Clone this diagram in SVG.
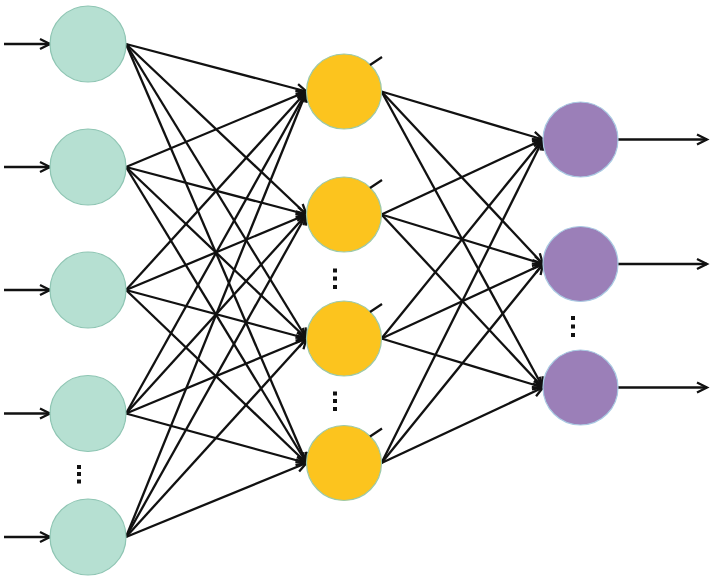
<svg xmlns="http://www.w3.org/2000/svg" width="713" height="587" viewBox="0 0 713 587">
<defs>
<marker id="arr" markerUnits="userSpaceOnUse" markerWidth="14" markerHeight="14" refX="11" refY="6" orient="auto" overflow="visible">
<path d="M1,1 L11,6 L1,11" fill="none" stroke="#111" stroke-width="2.3"/>
</marker>
</defs>
<style>
.e{stroke:#111;stroke-width:2.3;fill:none;marker-end:url(#arr)}
.in{fill:#b6e0d2;stroke:#8ec5b3;stroke-width:1.2}
.hid{fill:#fcc41e;stroke:#9cc9a9;stroke-width:1.2}
.out{fill:#9b7fb8;stroke:#a9c9e2;stroke-width:1.2}
.tick{stroke:#111;stroke-width:2.3}
.dot{fill:#111}
</style>
<rect width="713" height="587" fill="#fff"/>
<g id="connectors">
<line class="e" x1="4" y1="44" x2="50" y2="44"/>
<line class="e" x1="4" y1="167" x2="50" y2="167"/>
<line class="e" x1="4" y1="290" x2="50" y2="290"/>
<line class="e" x1="4" y1="413.5" x2="50" y2="413.5"/>
<line class="e" x1="4" y1="537" x2="50" y2="537"/>
<line class="e" x1="126" y1="44" x2="306.5" y2="91.5"/>
<line class="e" x1="126" y1="44" x2="306.5" y2="214.5"/>
<line class="e" x1="126" y1="44" x2="306.5" y2="338.5"/>
<line class="e" x1="126" y1="44" x2="306.5" y2="463"/>
<line class="e" x1="126" y1="167" x2="306.5" y2="91.5"/>
<line class="e" x1="126" y1="167" x2="306.5" y2="214.5"/>
<line class="e" x1="126" y1="167" x2="306.5" y2="338.5"/>
<line class="e" x1="126" y1="167" x2="306.5" y2="463"/>
<line class="e" x1="126" y1="290" x2="306.5" y2="91.5"/>
<line class="e" x1="126" y1="290" x2="306.5" y2="214.5"/>
<line class="e" x1="126" y1="290" x2="306.5" y2="338.5"/>
<line class="e" x1="126" y1="290" x2="306.5" y2="463"/>
<line class="e" x1="126" y1="413.5" x2="306.5" y2="91.5"/>
<line class="e" x1="126" y1="413.5" x2="306.5" y2="214.5"/>
<line class="e" x1="126" y1="413.5" x2="306.5" y2="338.5"/>
<line class="e" x1="126" y1="413.5" x2="306.5" y2="463"/>
<line class="e" x1="126" y1="537" x2="306.5" y2="91.5"/>
<line class="e" x1="126" y1="537" x2="306.5" y2="214.5"/>
<line class="e" x1="126" y1="537" x2="306.5" y2="338.5"/>
<line class="e" x1="126" y1="537" x2="306.5" y2="463"/>
<line class="e" x1="381.5" y1="91.5" x2="543" y2="139.5"/>
<line class="e" x1="381.5" y1="91.5" x2="543" y2="264"/>
<line class="e" x1="381.5" y1="91.5" x2="543" y2="387.5"/>
<line class="e" x1="381.5" y1="214.5" x2="543" y2="139.5"/>
<line class="e" x1="381.5" y1="214.5" x2="543" y2="264"/>
<line class="e" x1="381.5" y1="214.5" x2="543" y2="387.5"/>
<line class="e" x1="381.5" y1="338.5" x2="543" y2="139.5"/>
<line class="e" x1="381.5" y1="338.5" x2="543" y2="264"/>
<line class="e" x1="381.5" y1="338.5" x2="543" y2="387.5"/>
<line class="e" x1="381.5" y1="463" x2="543" y2="139.5"/>
<line class="e" x1="381.5" y1="463" x2="543" y2="264"/>
<line class="e" x1="381.5" y1="463" x2="543" y2="387.5"/>
<line class="e" x1="618" y1="139.5" x2="707" y2="139.5"/>
<line class="e" x1="618" y1="264" x2="707" y2="264"/>
<line class="e" x1="618" y1="387.5" x2="707" y2="387.5"/>
</g>
<g id="input1"><circle class="in" cx="88" cy="44" r="38"/></g>
<g id="input2"><circle class="in" cx="88" cy="167" r="38"/></g>
<g id="input3"><circle class="in" cx="88" cy="290" r="38"/></g>
<g id="input4"><circle class="in" cx="88" cy="413.5" r="38"/></g>
<g id="input5"><circle class="in" cx="88" cy="537" r="38"/></g>
<g id="input-dots"><rect class="dot" x="77" y="465" width="4" height="4"/><rect class="dot" x="77" y="472" width="4" height="4"/><rect class="dot" x="77" y="479.5" width="4" height="4"/></g>
<g id="hidden1"><circle class="hid" cx="344" cy="91.5" r="37.5"/><line class="tick" x1="370" y1="65" x2="382" y2="57"/></g>
<g id="hidden2"><circle class="hid" cx="344" cy="214.5" r="37.5"/><line class="tick" x1="370" y1="188" x2="382" y2="180"/></g>
<g id="hidden3"><circle class="hid" cx="344" cy="338.5" r="37.5"/><line class="tick" x1="370" y1="312" x2="382" y2="304"/></g>
<g id="hidden4"><circle class="hid" cx="344" cy="463" r="37.5"/><line class="tick" x1="370" y1="436.5" x2="382" y2="428.5"/></g>
<g id="hidden-dots1"><rect class="dot" x="333" y="268.5" width="4" height="4"/><rect class="dot" x="333" y="276.5" width="4" height="4"/><rect class="dot" x="333" y="285" width="4" height="4"/></g>
<g id="hidden-dots2"><rect class="dot" x="333" y="391.5" width="4" height="4"/><rect class="dot" x="333" y="399" width="4" height="4"/><rect class="dot" x="333" y="407" width="4" height="4"/></g>
<g id="output1"><circle class="out" cx="580.5" cy="139.5" r="37.5"/></g>
<g id="output2"><circle class="out" cx="580.5" cy="264" r="37.5"/></g>
<g id="output3"><circle class="out" cx="580.5" cy="387.5" r="37.5"/></g>
<g id="output-dots"><rect class="dot" x="571" y="316" width="4" height="4"/><rect class="dot" x="571" y="324.5" width="4" height="4"/><rect class="dot" x="571" y="333" width="4" height="4"/></g>
</svg>
